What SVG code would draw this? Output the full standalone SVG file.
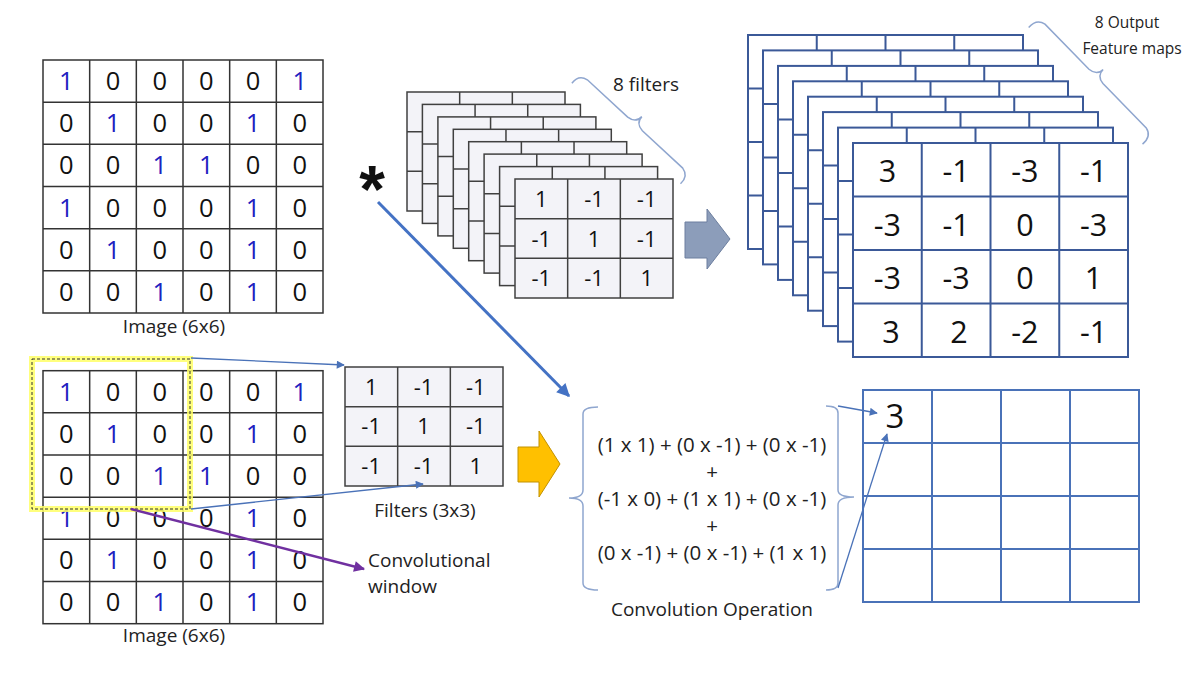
<svg xmlns="http://www.w3.org/2000/svg" xmlns:xlink="http://www.w3.org/1999/xlink" width="1196" height="673" viewBox="0 0 1196 673">
<style>
.n{font-family:"Open Sans","Liberation Sans",sans-serif;font-size:25.5px;fill:#111;text-anchor:middle}
.b{fill:#2020c0}
.f{font-family:"Open Sans","Liberation Sans",sans-serif;font-size:22px;fill:#111;text-anchor:middle}
.o{font-family:"Open Sans","Liberation Sans",sans-serif;font-size:30.5px;fill:#111;text-anchor:middle}
.lbl{font-family:"Open Sans","Liberation Sans",sans-serif;font-size:19px;fill:#222;text-anchor:middle}
.st{text-anchor:start}
.eq{font-family:"Open Sans","Liberation Sans",sans-serif;font-size:20.5px;fill:#222;text-anchor:middle}
.sm{font-family:"Open Sans","Liberation Sans",sans-serif;font-size:15.5px;fill:#222;text-anchor:middle}
.gl{fill:none;stroke:#333;stroke-width:1.5}
.brace{fill:none;stroke:#8fa6cf;stroke-width:1.5}
.thin{fill:none;stroke:#4a72b8;stroke-width:1.3}
</style>
<defs>
<marker id="ahThin" viewBox="0 0 10 10" refX="9" refY="5" markerUnits="userSpaceOnUse" markerWidth="9" markerHeight="8" orient="auto"><path d="M0,0 L10,5 L0,10 z" fill="#4a72b8"/></marker>
<marker id="ahBig" viewBox="0 0 10 10" refX="9" refY="5" markerUnits="userSpaceOnUse" markerWidth="15" markerHeight="13" orient="auto"><path d="M0,0 L10,5 L0,10 z" fill="#4472c4"/></marker>
<marker id="ahPurple" viewBox="0 0 10 10" refX="9" refY="5" markerUnits="userSpaceOnUse" markerWidth="13" markerHeight="11" orient="auto"><path d="M0,0 L10,5 L0,10 z" fill="#7030a0"/></marker>
<g id="grid6">
<rect x="0" y="0" width="280" height="253" fill="#fff" class="gl"/>
<path class="gl" d="M46.67,0V253M93.33,0V253M140,0V253M186.67,0V253M233.33,0V253M0,42.17H280M0,84.33H280M0,126.5H280M0,168.67H280M0,210.83H280"/>
</g>
<g id="filt">
<rect x="0" y="0" width="158" height="119" fill="#f3f3f8" stroke="#404040" stroke-width="1.5"/>
<path d="M52.67,0V119M105.33,0V119M0,39.67H158M0,79.33H158" fill="none" stroke="#404040" stroke-width="1.5"/>
</g>
<g id="fmap">
<rect x="0" y="0" width="275" height="214" fill="#fff" stroke="#3b5998" stroke-width="2"/>
<path d="M68.75,0V214M137.5,0V214M206.25,0V214M0,53.5H275M0,107H275M0,160.5H275" fill="none" stroke="#3b5998" stroke-width="2"/>
</g>
</defs>
<rect width="1196" height="673" fill="#fff"/>

<g id="image-top">
<use href="#grid6" x="43" y="60"/>
<text class="n" y="90"><tspan class="b" x="66.3">1</tspan><tspan x="113">0</tspan><tspan x="159.7">0</tspan><tspan x="206.3">0</tspan><tspan x="253">0</tspan><tspan class="b" x="299.7">1</tspan></text>
<text class="n" y="132"><tspan x="66.3">0</tspan><tspan class="b" x="113">1</tspan><tspan x="159.7">0</tspan><tspan x="206.3">0</tspan><tspan class="b" x="253">1</tspan><tspan x="299.7">0</tspan></text>
<text class="n" y="174"><tspan x="66.3">0</tspan><tspan x="113">0</tspan><tspan class="b" x="159.7">1</tspan><tspan class="b" x="206.3">1</tspan><tspan x="253">0</tspan><tspan x="299.7">0</tspan></text>
<text class="n" y="217"><tspan class="b" x="66.3">1</tspan><tspan x="113">0</tspan><tspan x="159.7">0</tspan><tspan x="206.3">0</tspan><tspan class="b" x="253">1</tspan><tspan x="299.7">0</tspan></text>
<text class="n" y="259"><tspan x="66.3">0</tspan><tspan class="b" x="113">1</tspan><tspan x="159.7">0</tspan><tspan x="206.3">0</tspan><tspan class="b" x="253">1</tspan><tspan x="299.7">0</tspan></text>
<text class="n" y="301"><tspan x="66.3">0</tspan><tspan x="113">0</tspan><tspan class="b" x="159.7">1</tspan><tspan x="206.3">0</tspan><tspan class="b" x="253">1</tspan><tspan x="299.7">0</tspan></text>
<text class="lbl" x="174" y="333">Image (6x6)</text>
</g>

<g id="image-bottom">
<use href="#grid6" x="43" y="370.7"/>
<text class="n" y="401"><tspan class="b" x="66.3">1</tspan><tspan x="113">0</tspan><tspan x="159.7">0</tspan><tspan x="206.3">0</tspan><tspan x="253">0</tspan><tspan class="b" x="299.7">1</tspan></text>
<text class="n" y="443"><tspan x="66.3">0</tspan><tspan class="b" x="113">1</tspan><tspan x="159.7">0</tspan><tspan x="206.3">0</tspan><tspan class="b" x="253">1</tspan><tspan x="299.7">0</tspan></text>
<text class="n" y="485"><tspan x="66.3">0</tspan><tspan x="113">0</tspan><tspan class="b" x="159.7">1</tspan><tspan class="b" x="206.3">1</tspan><tspan x="253">0</tspan><tspan x="299.7">0</tspan></text>
<text class="n" y="527"><tspan class="b" x="66.3">1</tspan><tspan x="113">0</tspan><tspan x="159.7">0</tspan><tspan x="206.3">0</tspan><tspan class="b" x="253">1</tspan><tspan x="299.7">0</tspan></text>
<text class="n" y="569"><tspan x="66.3">0</tspan><tspan class="b" x="113">1</tspan><tspan x="159.7">0</tspan><tspan x="206.3">0</tspan><tspan class="b" x="253">1</tspan><tspan x="299.7">0</tspan></text>
<text class="n" y="611"><tspan x="66.3">0</tspan><tspan x="113">0</tspan><tspan class="b" x="159.7">1</tspan><tspan x="206.3">0</tspan><tspan class="b" x="253">1</tspan><tspan x="299.7">0</tspan></text>
<text class="lbl" x="174" y="642">Image (6x6)</text>
</g>

<g id="conv-window">
<rect x="32" y="359" width="158" height="150" fill="none" stroke="#ffff66" stroke-width="6" opacity="0.85"/>
<rect x="32" y="359" width="158" height="150" fill="none" stroke="#333" stroke-width="1" stroke-dasharray="3 2"/>
</g>

<g id="asterisk">
<text x="372" y="212" font-family="Liberation Sans, sans-serif" font-size="66" font-weight="bold" fill="#111" text-anchor="middle">*</text>
</g>

<g id="filter-stack">
<use href="#filt" x="407" y="92"/>
<use href="#filt" x="422.4" y="104.4"/>
<use href="#filt" x="437.9" y="116.9"/>
<use href="#filt" x="453.3" y="129.3"/>
<use href="#filt" x="468.7" y="141.7"/>
<use href="#filt" x="484.1" y="154.1"/>
<use href="#filt" x="499.6" y="166.6"/>
<use href="#filt" x="515" y="179"/>
<text class="f" y="206.5"><tspan x="541.3">1</tspan><tspan x="594">-1</tspan><tspan x="646.7">-1</tspan></text>
<text class="f" y="246.5"><tspan x="541.3">-1</tspan><tspan x="594">1</tspan><tspan x="646.7">-1</tspan></text>
<text class="f" y="286"><tspan x="541.3">-1</tspan><tspan x="594">-1</tspan><tspan x="646.7">1</tspan></text>
</g>

<g id="filters-brace">
<path class="brace" transform="translate(580,73) rotate(42.8)" d="M1,13 Q0,2 10,0 L65,0 Q75,-1 75,-10 Q75,-1 85,0 L140,0 Q150,2 149,13"/>
<text class="lbl" x="646" y="91">8 filters</text>
</g>

<g id="gray-arrow">
<path d="M685,222 L707,222 L707,209 L730,239 L707,269 L707,258 L685,258 Z" fill="#8c9dba" stroke="#6d7f9f" stroke-width="1"/>
</g>

<g id="feature-maps">
<use href="#fmap" x="748" y="35"/>
<use href="#fmap" x="763" y="50.4"/>
<use href="#fmap" x="778" y="65.9"/>
<use href="#fmap" x="793" y="81.3"/>
<use href="#fmap" x="808" y="96.7"/>
<use href="#fmap" x="823" y="112.1"/>
<use href="#fmap" x="838" y="127.6"/>
<use href="#fmap" x="853" y="143"/>
<text class="o" y="182"><tspan x="887.4">3</tspan><tspan x="956.1">-1</tspan><tspan x="1024.9">-3</tspan><tspan x="1093.6">-1</tspan></text>
<text class="o" y="235.5"><tspan x="887.4">-3</tspan><tspan x="956.1">-1</tspan><tspan x="1024.9">0</tspan><tspan x="1093.6">-3</tspan></text>
<text class="o" y="289"><tspan x="887.4">-3</tspan><tspan x="956.1">-3</tspan><tspan x="1024.9">0</tspan><tspan x="1093.6">1</tspan></text>
<text class="o" y="342.5"><tspan x="891">3</tspan><tspan x="959">2</tspan><tspan x="1024.9">-2</tspan><tspan x="1093.6">-1</tspan></text>
</g>

<g id="maps-brace">
<path class="brace" transform="translate(1038,17) rotate(45.7)" d="M1,14 Q0,2 10,0 L73,0 Q83,-1 83,-10 Q83,-1 93,0 L155,0 Q165,2 164,14"/>
<text class="sm" x="1127" y="28">8 Output</text>
<text class="sm" x="1132" y="54">Feature maps</text>
</g>

<g id="filter-3x3">
<use href="#filt" x="345" y="367"/>
<text class="f" font-size="23" y="395"><tspan x="371.2">1</tspan><tspan x="423.5">-1</tspan><tspan x="475.8">-1</tspan></text>
<text class="f" font-size="23" y="434"><tspan x="371.2">-1</tspan><tspan x="423.5">1</tspan><tspan x="475.8">-1</tspan></text>
<text class="f" font-size="23" y="473.5"><tspan x="371.2">-1</tspan><tspan x="423.5">-1</tspan><tspan x="475.8">1</tspan></text>
<text class="lbl" x="425" y="517">Filters (3x3)</text>
</g>

<g id="yellow-arrow">
<path d="M518,447 L539,447 L539,431 L560,464 L539,497 L539,482 L518,482 Z" fill="#ffc000" stroke="#c29200" stroke-width="1"/>
</g>

<g id="window-label">
<text class="lbl st" font-size="19.5" x="368" y="567">Convolutional</text>
<text class="lbl st" font-size="19.5" x="368" y="593">window</text>
</g>

<g id="convolution-operation">
<path class="brace" d="M598,407 Q583,407 583,414 L583,490 Q583,498 569,498 Q583,498 583,506 L583,583 Q583,590 598,590"/>
<path class="brace" d="M826,406 Q838,406 838,413 L838,490 Q838,497 854,497 Q838,497 838,505 L838,583 Q838,590 826,590"/>
<text class="eq" x="712" y="452">(1 x 1) + (0 x -1) + (0 x -1)</text>
<text class="eq" x="712" y="479">+</text>
<text class="eq" x="712" y="506">(-1 x 0) + (1 x 1) + (0 x -1)</text>
<text class="eq" x="712" y="533">+</text>
<text class="eq" x="712" y="560">(0 x -1) + (0 x -1) + (1 x 1)</text>
<text class="lbl" x="712" y="616">Convolution Operation</text>
</g>

<g id="output-map">
<rect x="863" y="390" width="276" height="212" fill="#fff" stroke="#4a72b8" stroke-width="2"/>
<path d="M932,390V602M1001,390V602M1070,390V602M863,443H1139M863,496H1139M863,549H1139" fill="none" stroke="#4a72b8" stroke-width="2"/>
<text x="895" y="428" font-family="Open Sans, Liberation Sans, sans-serif" font-size="33" fill="#111" text-anchor="middle">3</text>
</g>

<g id="connectors">
<line x1="378" y1="202" x2="569" y2="396" stroke="#4472c4" stroke-width="3" marker-end="url(#ahBig)"/>
<line class="thin" x1="191" y1="358" x2="344" y2="365" marker-end="url(#ahThin)"/>
<line class="thin" x1="191" y1="509" x2="423" y2="484" marker-end="url(#ahThin)"/>
<line x1="131" y1="509" x2="364" y2="569" stroke="#7030a0" stroke-width="2.5" marker-end="url(#ahPurple)"/>
<line class="thin" x1="838" y1="406" x2="877" y2="413" marker-end="url(#ahThin)"/>
<line class="thin" x1="838" y1="588" x2="887" y2="434" marker-end="url(#ahThin)"/>
</g>
</svg>
